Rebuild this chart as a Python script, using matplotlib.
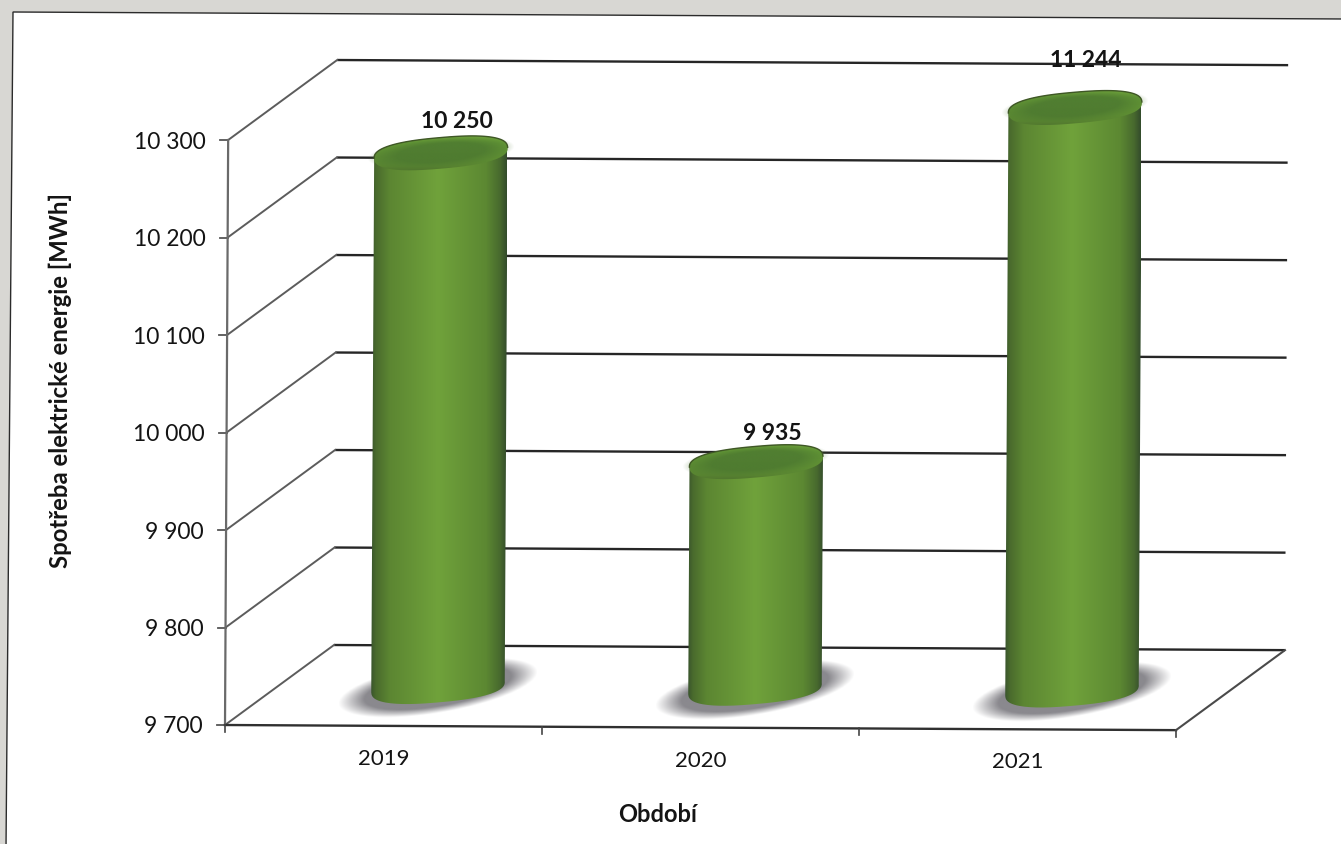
import numpy as np
import matplotlib
matplotlib.use('Agg')
import matplotlib.pyplot as plt
from matplotlib.colors import LinearSegmentedColormap, to_rgb
from matplotlib.patches import PathPatch, Polygon
from matplotlib.path import Path
from matplotlib.transforms import Affine2D, IdentityTransform

plt.rcParams['font.family'] = ['Lato', 'DejaVu Sans']

# Spotreba elektricke energie
roky = ['2019', '2020', '2021']
spotreba = [10250, 9935, 11244]
popisky_hodnot = ['10 250', '9 935', '11 244']
y_ticks = [9700, 9800, 9900, 10000, 10100, 10200, 10300]
y_labels = ['9 700', '9 800', '9 900', '10 000', '10 100', '10 200', '10 300']

W, H = 1341, 845
Y_MIN, Y_MAX = y_ticks[0], y_ticks[-1]
HLOUBKA = (109, 80)      # posun zadni steny v pixelech
NAKLON = -0.31           # cely graf je mirne pootoceny
ELIPSA_A, ELIPSA_B, ELIPSA_ROT = 67, 15.5, np.radians(5)
LABEL_DX = [16, 16, 11]
LABEL_DY = [33, 29, 48]
TEXT = '#141414'

fig = plt.figure(figsize=(W / 100, H / 100), dpi=100, facecolor='#d8d7d3')
ax = fig.add_axes([225 / W, (H - 726) / H, 951 / W, 585 / H])
ax.axis('off')

# pixelove souradnice obrazku (y dolu) pro ramecek a popisky os
px = Affine2D().scale(1, -1).translate(0, H)
fig.add_artist(Polygon([(13, 13), (1345, 20), (1345, 850), (6, 850)], closed=True, zorder=-1,
                       facecolor='white', edgecolor='#2b2b2b', lw=1.0, transform=px))


def set_limits():
    ax.set_xlim(0, len(roky))
    ax.set_ylim(Y_MIN, Y_MAX)


set_limits()
fig.canvas.draw()

pivot = ax.transData.transform((0, Y_MIN))
tilt = Affine2D().rotate_deg_around(pivot[0], pivot[1], NAKLON)
front = ax.transData + tilt
back = front + Affine2D().translate(*HLOUBKA)
mid = front + Affine2D().translate(HLOUBKA[0] / 2, HLOUBKA[1] / 2)

# mrizka: vodorovna cara na zadni stene a sikma k ose
for t in y_ticks:
    ax.plot([0, len(roky)], [t, t], transform=back, color='#262626', lw=1.7, clip_on=False, zorder=1,
            solid_capstyle='butt')
    p0 = front.transform((0, t))
    p1 = back.transform((0, t))
    ax.plot([p0[0], p1[0]], [p0[1], p1[1]], transform=IdentityTransform(), color='#5c5c5c', lw=1.4,
            clip_on=False, zorder=1)
    # carka a popisek osy y
    ax.plot([p0[0] - 8, p0[0]], [p0[1], p0[1]], transform=IdentityTransform(), color='#555555', lw=1.3,
            clip_on=False, zorder=2)

for t, lab in zip(y_ticks, y_labels):
    p = front.transform((0, t))
    ax.text(p[0] - 22, p[1] - 1, lab, transform=IdentityTransform(), ha='right', va='center',
            fontsize=16.5, color=TEXT, clip_on=False)

ax.plot([0, 0], [Y_MIN, Y_MAX], transform=front, color='#6a6a6a', lw=1.6, clip_on=False, zorder=2)
ax.plot([0, len(roky)], [Y_MIN, Y_MIN], transform=front, color='#303030', lw=1.7, clip_on=False, zorder=2)
p0 = front.transform((len(roky), Y_MIN))
p1 = back.transform((len(roky), Y_MIN))
ax.plot([p0[0], p1[0]], [p0[1], p1[1]], transform=IdentityTransform(), color='#4a4a4a', lw=1.5,
        clip_on=False, zorder=2)

for i in range(len(roky) + 1):
    p = front.transform((i, Y_MIN))
    ax.plot([p[0], p[0]], [p[1], p[1] - 7], transform=IdentityTransform(), color='#444444', lw=1.2,
            clip_on=False, zorder=2)

for i, rok in enumerate(roky):
    p = front.transform((i + 0.5, Y_MIN))
    ax.text(p[0], p[1] - 32, rok, transform=IdentityTransform(), ha='center', va='center',
            fontsize=16, color=TEXT)

# prechod pres valec: tmave okraje, svetly stred
cmap_val = LinearSegmentedColormap.from_list('val', [
    (0.0, '#334c2c'), (0.05, '#4a6b2d'), (0.15, '#5c8632'), (0.5, '#70a23b'),
    (0.85, '#5c8832'), (0.95, '#486a2e'), (1.0, '#344c2c')])
cmap_vrch = LinearSegmentedColormap.from_list('vrch', [
    (0.0, '#4a6c2c'), (0.2, '#5a8632'), (0.75, '#659a37'), (1.0, '#7ab040')])
gradient = np.linspace(0, 1, 256).reshape(1, -1)


def elipsa(cx, cy, a, b, rot, t, n=2.5):
    # mirne hranata elipsa, ramena valce jsou kulatejsi
    u = np.sign(np.cos(t)) * np.abs(np.cos(t)) ** (2 / n)
    v = np.sign(np.sin(t)) * np.abs(np.sin(t)) ** (2 / n)
    x = cx + a * u * np.cos(rot) - b * v * np.sin(rot)
    y = cy + a * u * np.sin(rot) + b * v * np.cos(rot)
    return np.column_stack([x, y])


def obrazek(data, extent, outline, zorder, **kw):
    patch = PathPatch(Path(np.vstack([outline, outline[:1]])), transform=IdentityTransform())
    im = ax.imshow(data, extent=extent, transform=IdentityTransform(), aspect='auto',
                   interpolation='bilinear', zorder=zorder, **kw)
    im.set_clip_box(fig.bbox)
    im.set_clip_path(patch)
    return im


def mekka_elipsa(cx, cy, a, b, rot, barva, plna, okraj, zorder):
    # elipsa s rozmazanym okrajem jako obrazek s pruhlednosti
    sirka, vyska = a * 1.25, a * 0.55
    gx, gy = np.meshgrid(np.linspace(-sirka, sirka, 240), np.linspace(-vyska, vyska, 120))
    xr = gx * np.cos(rot) + gy * np.sin(rot)
    yr = -gx * np.sin(rot) + gy * np.cos(rot)
    r = np.sqrt((xr / a) ** 2 + (yr / b) ** 2)
    rgba = np.zeros(r.shape + (4,))
    rgba[..., :3] = to_rgb(barva)
    rgba[..., 3] = plna * np.clip((1 + okraj / 2 - r) / okraj, 0, 1)
    im = ax.imshow(rgba, extent=[cx - sirka, cx + sirka, cy - vyska, cy + vyska], origin='lower',
                   transform=IdentityTransform(), aspect='auto', interpolation='bilinear', zorder=zorder)
    im.set_clip_box(fig.bbox)
    im.set_clip_path(None)


for i, hodnota in enumerate(spotreba):
    # sloupec 2021 je uriznuty na horni mezi osy
    vrch = min(hodnota, Y_MAX)
    bx, by = mid.transform((i + 0.5, Y_MIN))
    tx, ty = mid.transform((i + 0.5, vrch))
    by -= 1
    ty -= 3.5
    a = ELIPSA_A

    # stin pod valcem
    mekka_elipsa(bx, by - 1, 88, 22, ELIPSA_ROT + 0.08, '#8a898e', 1.0, 0.3, 3)

    # plast valce
    dolni = elipsa(bx, by, a, ELIPSA_B, ELIPSA_ROT, np.linspace(np.pi, 2 * np.pi, 80))
    horni = elipsa(tx, ty, a, ELIPSA_B, ELIPSA_ROT, np.linspace(0, np.pi, 80))
    obrys = np.vstack([dolni, horni])
    obrazek(gradient, [bx - a - 2, bx + a + 2, by - 30, ty + 30], obrys, 4, cmap=cmap_val)

    # horni podstava se svetlym lemem a tmavsim stredem
    kruh = elipsa(tx, ty, a, ELIPSA_B, ELIPSA_ROT, np.linspace(0, 2 * np.pi, 160))
    obrazek(gradient.T[::-1], [tx - a - 2, tx + a + 2, ty - 21, ty + 21], kruh, 5, cmap=cmap_vrch)
    mekka_elipsa(tx, ty + 1, a - 8, ELIPSA_B - 3, ELIPSA_ROT, '#4c7830', 0.8, 0.5, 5.5)
    ax.plot(kruh[:80, 0], kruh[:80, 1], transform=IdentityTransform(), color='#3f5726', lw=1.0,
            clip_on=False, zorder=6)

    ax.text(tx + LABEL_DX[i], ty + LABEL_DY[i], popisky_hodnot[i], transform=IdentityTransform(),
            ha='center', va='center', fontsize=16.5, fontweight='bold', color=TEXT, zorder=7)

set_limits()

# popisky os
fig.text(60 / W, (H - 381) / H, 'Spotřeba elektrické energie [MWh]', rotation=90, ha='center', va='center',
         fontsize=17.2, fontweight='bold', color=TEXT)
fig.text(658 / W, (H - 815) / H, 'Období', ha='center', va='center',
         fontsize=17, fontweight='bold', color=TEXT)

fig.savefig('out.png', dpi=100, facecolor=fig.get_facecolor())
